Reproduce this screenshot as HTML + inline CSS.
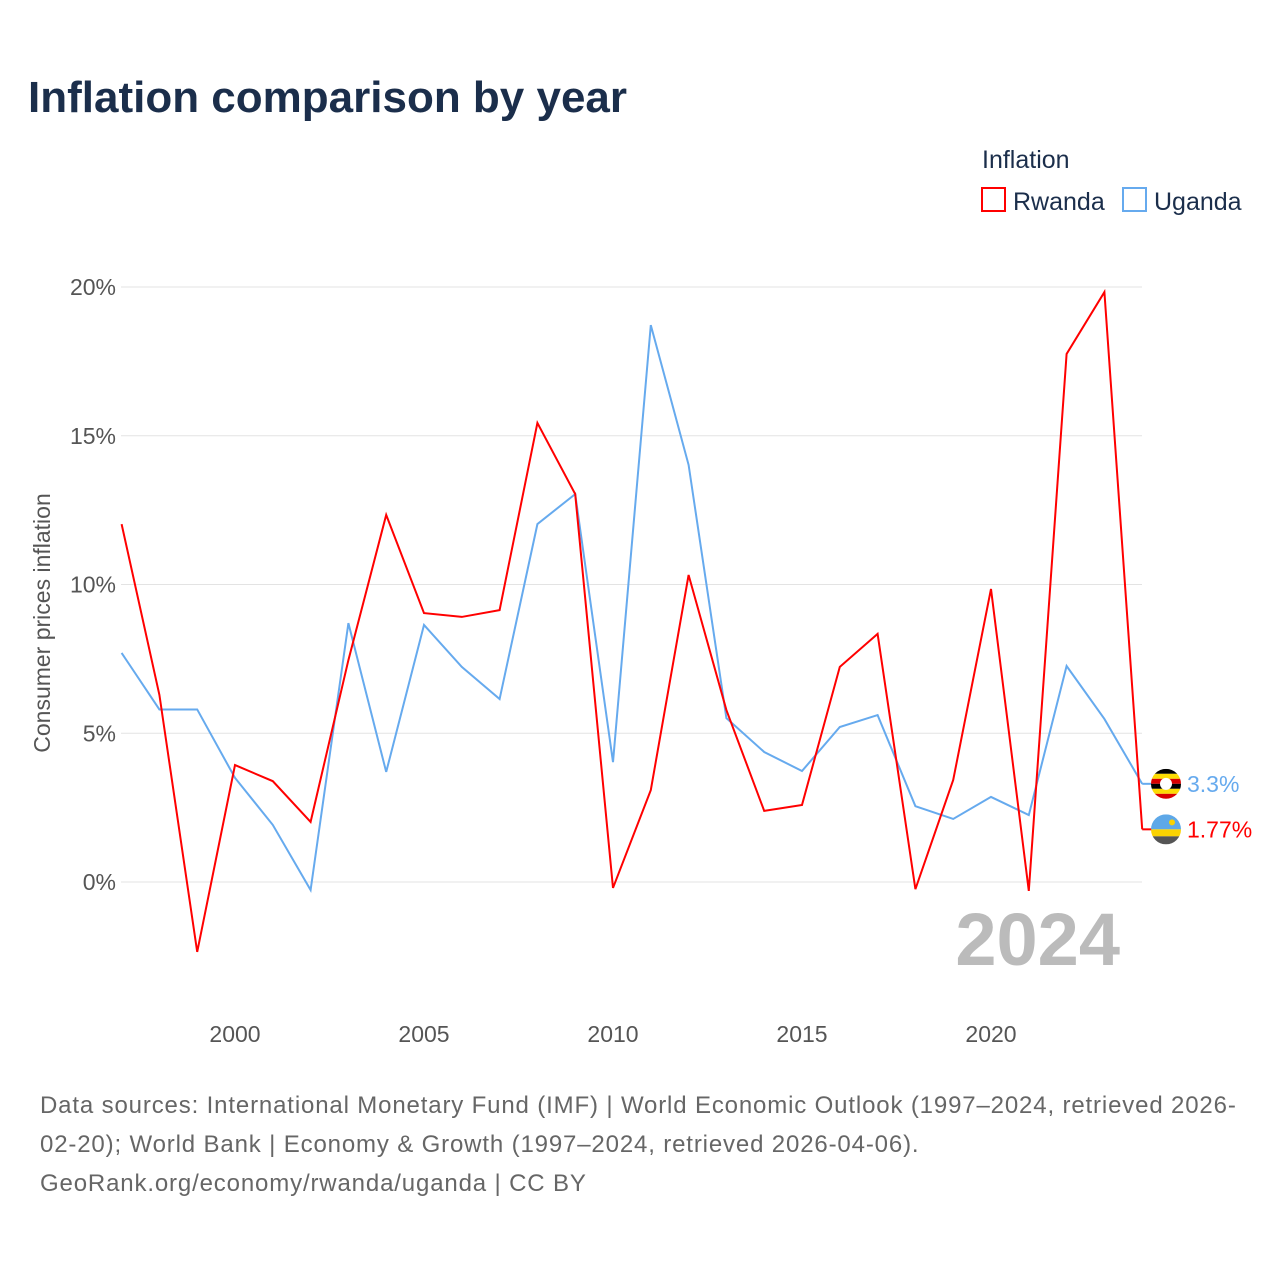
<!DOCTYPE html>
<html><head><meta charset="utf-8">
<style>
body{margin:0;background:#fff;width:1280px;height:1280px;overflow:hidden;font-family:"Liberation Sans",sans-serif;}
</style></head>
<body>
<svg id="chart" width="1280" height="1280" xmlns="http://www.w3.org/2000/svg" font-family="Liberation Sans, sans-serif">
<text x="28" y="112" font-size="44" font-weight="bold" fill="#1b2e4b">Inflation comparison by year</text>
<text x="982" y="168" font-size="25" fill="#1b2e4b">Inflation</text>
<g><rect x="982" y="188" width="23" height="23" fill="none" stroke="#ff0000" stroke-width="2"/><text x="1013" y="210" font-size="25" fill="#1b2e4b">Rwanda</text></g>
<g><rect x="1123" y="188" width="23" height="23" fill="none" stroke="#66aaee" stroke-width="2"/><text x="1154" y="210" font-size="25" fill="#1b2e4b">Uganda</text></g>
<g id="grid"></g>
<g id="xticks"></g>
<text transform="translate(50,623) rotate(-90)" text-anchor="middle" font-size="23" fill="#555">Consumer prices inflation</text>
<text x="1120" y="965" text-anchor="end" font-size="74" font-weight="bold" fill="#bbbbbb">2024</text>
<g id="series"></g>
<g font-size="24" fill="#666" letter-spacing="0.85">
<text x="40" y="1113">Data sources: International Monetary Fund (IMF) | World Economic Outlook (1997–2024, retrieved 2026-</text>
<text x="40" y="1152">02-20); World Bank | Economy &amp; Growth (1997–2024, retrieved 2026-04-06).</text>
<text x="40" y="1191">GeoRank.org/economy/rwanda/uganda | CC BY</text>
</g>
</svg>
<script>
const years=[1997,1998,1999,2000,2001,2002,2003,2004,2005,2006,2007,2008,2009,2010,2011,2012,2013,2014,2015,2016,2017,2018,2019,2020,2021,2022,2023,2024];
const rwanda=[12.03,6.29,-2.35,3.93,3.39,2.02,7.46,12.34,9.04,8.91,9.14,15.43,13.04,-0.2,3.09,10.32,5.78,2.39,2.59,7.23,8.34,-0.24,3.43,9.85,-0.3,17.75,19.83,1.77];
const uganda=[7.7,5.8,5.8,3.5,1.92,-0.27,8.7,3.7,8.64,7.23,6.15,12.03,13.04,4.03,18.72,14.02,5.51,4.37,3.73,5.21,5.61,2.55,2.12,2.86,2.25,7.26,5.48,3.3];
const yTicks=[0,5,10,15,20];
const xTicks=[2000,2005,2010,2015,2020];
const NS="http://www.w3.org/2000/svg";
const x=v=>121.6+(v-1997)*37.8;
const y=v=>882-v*29.75;
function mk(tag,attrs,parent){const e=document.createElementNS(NS,tag);for(const k in attrs)e.setAttribute(k,attrs[k]);parent.appendChild(e);return e;}
const grid=document.getElementById('grid');
yTicks.forEach(t=>{
  const l=mk('line',{x1:121,x2:1142,y1:y(t),y2:y(t),stroke:'#e3e3e3','stroke-width':1},grid);
  
  
  const tx=mk('text',{x:116,y:y(t)+8,'text-anchor':'end','font-size':23,fill:'#555'},grid);
  tx.textContent=t+'%';
  
  
});
const xt=document.getElementById('xticks');
xTicks.forEach(t=>{
  const tx=mk('text',{x:x(t),y:1042,'text-anchor':'middle','font-size':23,fill:'#555'},xt);
  tx.textContent=t;
  
  
});
const s=document.getElementById('series');
function line(data,color,name){
  const pts=data.map((v,i)=>x(years[i])+','+y(v)).join(' ');
  const p=mk('polyline',{points:pts,fill:'none',stroke:color,'stroke-width':2,'stroke-linejoin':'miter'},s);
  
  
}
line(uganda,'#66aaee','uganda-line');
line(rwanda,'#ff0000','rwanda-line');
function endLabel(data,color,name,flag){
  const v=data[data.length-1];const yy=y(v);
  mk('line',{x1:x(2024),x2:1152,y1:yy,y2:yy,stroke:color,'stroke-width':2},s);
  const g=mk('g',{},s);
  
  
  const cx=1166;
  if(flag==='ug'){
    const cols=['#000','#fcdc04','#d90000','#000','#fcdc04','#d90000'];
    const cp=mk('clipPath',{id:'cug'},g);mk('circle',{cx:cx,cy:yy,r:15},cp);
    cols.forEach((c,i)=>mk('rect',{x:cx-15,y:yy-15+i*5,width:30,height:5,fill:c,'clip-path':'url(#cug)'},g));
    mk('circle',{cx:cx,cy:yy,r:6,fill:'#fff'},g);
  } else {
    const cp=mk('clipPath',{id:'crw'},g);mk('circle',{cx:cx,cy:yy,r:15},cp);
    mk('rect',{x:cx-15,y:yy-15,width:30,height:15,fill:'#5ea8e8','clip-path':'url(#crw)'},g);
    mk('rect',{x:cx-15,y:yy,width:30,height:7,fill:'#fad201','clip-path':'url(#crw)'},g);
    mk('rect',{x:cx-15,y:yy+7,width:30,height:8,fill:'#555','clip-path':'url(#crw)'},g);
    mk('circle',{cx:cx+6,cy:yy-7,r:3,fill:'#fad201'},g);
  }
  const t=mk('text',{x:1187,y:yy+8,'font-size':23,fill:color},s);
  t.textContent=v+'%';
  
  
}
endLabel(uganda,'#66aaee','uganda','ug');
endLabel(rwanda,'#ff0000','rwanda','rw');
</script>
</body></html>
